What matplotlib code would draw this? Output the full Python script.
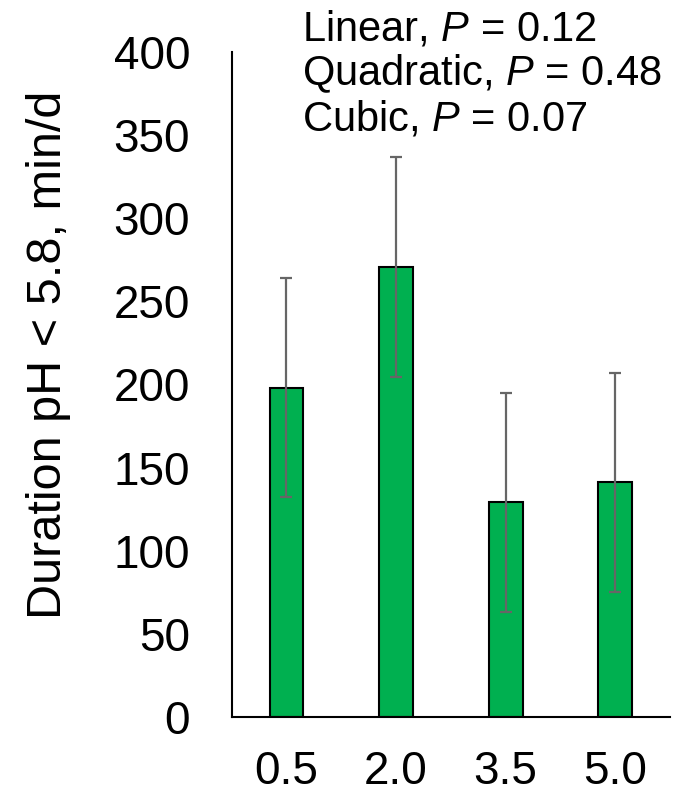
import numpy as np
import matplotlib
matplotlib.use("Agg")
import matplotlib.pyplot as plt

plt.rcParams['font.family'] = ['Liberation Sans', 'DejaVu Sans']
plt.rcParams['mathtext.fontset'] = 'custom'
plt.rcParams['mathtext.rm'] = 'Liberation Sans'
plt.rcParams['mathtext.it'] = 'Liberation Sans:italic'

# data
categories = ['0.5', '2.0', '3.5', '5.0']
means = [198, 270.5, 129, 141]
sems = [66, 66, 66, 66]
stats_lines = ['Linear, $P$ = 0.12', 'Quadratic, $P$ = 0.48', 'Cubic, $P$ = 0.07']

fig = plt.figure(figsize=(6.95, 7.95), dpi=100)
ax = fig.add_axes([0.3334, 0.0981, 0.964 - 0.3334, 0.935 - 0.0981])

x = np.arange(len(categories))
ax.bar(x, means, width=0.31, color='#00B050', edgecolor='black', linewidth=1.5, zorder=2)
ax.errorbar(x, means, yerr=sems, fmt='none', ecolor='#666666', elinewidth=1.6,
            capsize=4.3, capthick=1.6, zorder=3)

ax.set_xlim(-0.5, len(categories) - 0.5)
ax.set_ylim(0, 400)
ax.set_yticks(np.arange(0, 401, 50))
ax.set_xticks(x)
ax.set_xticklabels(categories)
ax.tick_params(axis='both', length=0, labelsize=33)
ax.tick_params(axis='y', pad=30)
ax.tick_params(axis='x', pad=24)
for s in ['top', 'right']:
    ax.spines[s].set_visible(False)
ax.spines['left'].set_linewidth(1.5)
ax.spines['bottom'].set_linewidth(1.5)

ax.set_ylabel('Duration pH < 5.8, min/d', fontsize=35)
ax.yaxis.set_label_coords(-0.366, 0.545, transform=ax.transAxes)

for i, line in enumerate(stats_lines):
    fig.text(0.435, 0.949 - i * 0.0565, line, fontsize=30, va='baseline', ha='left')

fig.savefig('out.png', dpi=100)
